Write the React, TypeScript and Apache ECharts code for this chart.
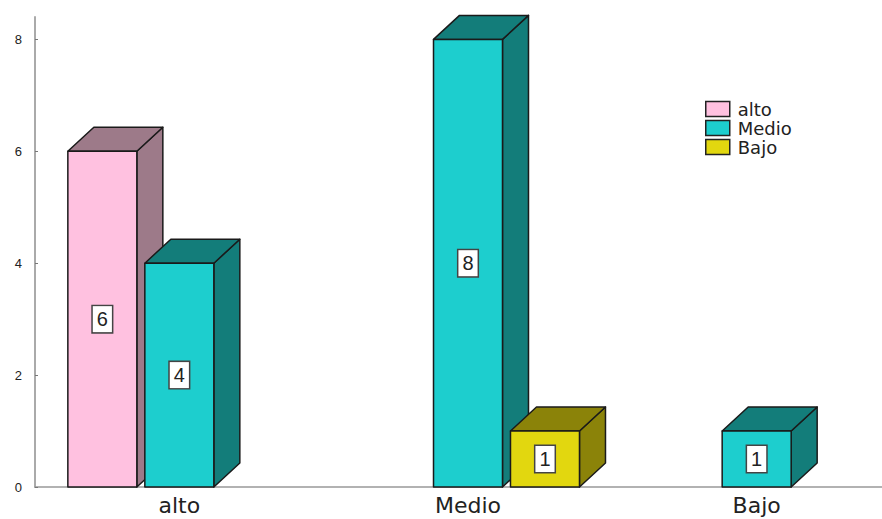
import React, { useEffect, useRef } from "react";
import * as echarts from "echarts";

const categories = ["alto", "Medio", "Bajo"];
const seriesNames = ["alto", "Medio", "Bajo"];
const altoValues = [6, 0, 0];
const medioValues = [4, 8, 1];
const bajoValues = [0, 1, 0];
const yTicks = [0, 2, 4, 6, 8];

const frontColors = ["#FFC1E0", "#1DCECE", "#E2D70F"];
const darkColors = ["#9D7A89", "#137D7A", "#8B8309"];

export default function App() {
  const ref = useRef<HTMLDivElement>(null);
  useEffect(() => {
    if (!ref.current) return;
    const chart = echarts.init(ref.current, null, { renderer: "svg" });
    const allValues = [altoValues, medioValues, bajoValues];
    const DX = 26;
    const DY = 24;
    const makeRender = (sIdx: number) => (params: any, api: any) => {
      const cat = api.value(0);
      const v = api.value(1);
      if (!v) return { type: "group", children: [] };
      const base = api.coord([cat, 0]);
      const top = api.coord([cat, v]);
      const band = api.size([1, 0])[0];
      const w = band * 0.239;
      const step = band * 0.2667;
      const cx = base[0] + (sIdx - 1) * step;
      const x0 = cx - w / 2;
      const x1 = cx + w / 2;
      const yT = top[1];
      const yB = base[1];
      const stroke = { stroke: "#1a1a1a", lineWidth: 1.5, lineJoin: "round" };
      return {
        type: "group",
        children: [
          {
            type: "polygon",
            shape: { points: [[x1, yT], [x1 + DX, yT - DY], [x1 + DX, yB - DY], [x1, yB]] },
            style: { fill: darkColors[sIdx], ...stroke },
          },
          {
            type: "polygon",
            shape: { points: [[x0, yT], [x0 + DX, yT - DY], [x1 + DX, yT - DY], [x1, yT]] },
            style: { fill: darkColors[sIdx], ...stroke },
          },
          {
            type: "rect",
            shape: { x: x0, y: yT, width: w, height: yB - yT },
            style: { fill: frontColors[sIdx], ...stroke },
          },
          {
            type: "text",
            x: cx,
            y: (yT + yB) / 2,
            style: {
              text: String(v),
              align: "center",
              verticalAlign: "middle",
              fontSize: 20,
              fontFamily: "Liberation Sans",
              fill: "#222",
              backgroundColor: "#fff",
              borderColor: "#444",
              borderWidth: 1.5,
              padding: [4, 4, 2, 4],
            },
          },
        ],
      };
    };

    chart.setOption({
      animation: false,
      backgroundColor: "#fff",
      grid: { left: 35, top: 17, width: 866, bottom: 32, containLabel: false },
      legend: {
        orient: "vertical",
        left: 705,
        top: 100,
        padding: 0,
        itemWidth: 24,
        itemHeight: 15,
        itemGap: 1,
        icon: "rect",
        selectedMode: false,
        textStyle: { fontFamily: "DejaVu Sans", fontSize: 18, color: "#222", lineHeight: 16, padding: [0, 0, 0, 3] },
        data: seriesNames.map((n, i) => ({
          name: n,
          itemStyle: { color: frontColors[i], borderColor: "#222", borderWidth: 1.5 },
        })),
      },
      xAxis: {
        type: "category",
        data: categories,
        axisTick: { show: false },
        axisLine: { lineStyle: { color: "#999", width: 1.5 } },
        axisLabel: { fontFamily: "DejaVu Sans", fontSize: 22, lineHeight: 24, color: "#222", margin: 6 },
        splitLine: { show: false },
      },
      yAxis: {
        type: "value",
        min: 0,
        max: 8.4,
        interval: 2,
        splitLine: { show: false },
        axisLine: { show: true, lineStyle: { color: "#aaa", width: 2 } },
        axisTick: { show: true, inside: true, length: 3, lineStyle: { color: "#777" }, customValues: yTicks },
        axisLabel: {
          fontFamily: "Liberation Sans",
          fontSize: 13,
          color: "#222",
          margin: 13,
          customValues: yTicks,
          formatter: (val: number) => (Number.isInteger(val) ? String(val) : ""),
        },
      },
      series: seriesNames.map((n, i) => ({
        name: n,
        type: "custom",
        clip: false,
        itemStyle: { color: frontColors[i], borderColor: "#222", borderWidth: 1.5 },
        renderItem: makeRender(i),
        encode: { x: 0, y: 1 },
        data: allValues[i].map((v, c) => [c, v]),
      })),
    });
    return () => chart.dispose();
  }, []);
  return (
    <div
      style={{ position: "fixed", left: 0, top: 0, width: 882, height: 519, overflow: "hidden", background: "#fff" }}
    >
      <div ref={ref} style={{ width: 920, height: 519 }} />
    </div>
  );
}
